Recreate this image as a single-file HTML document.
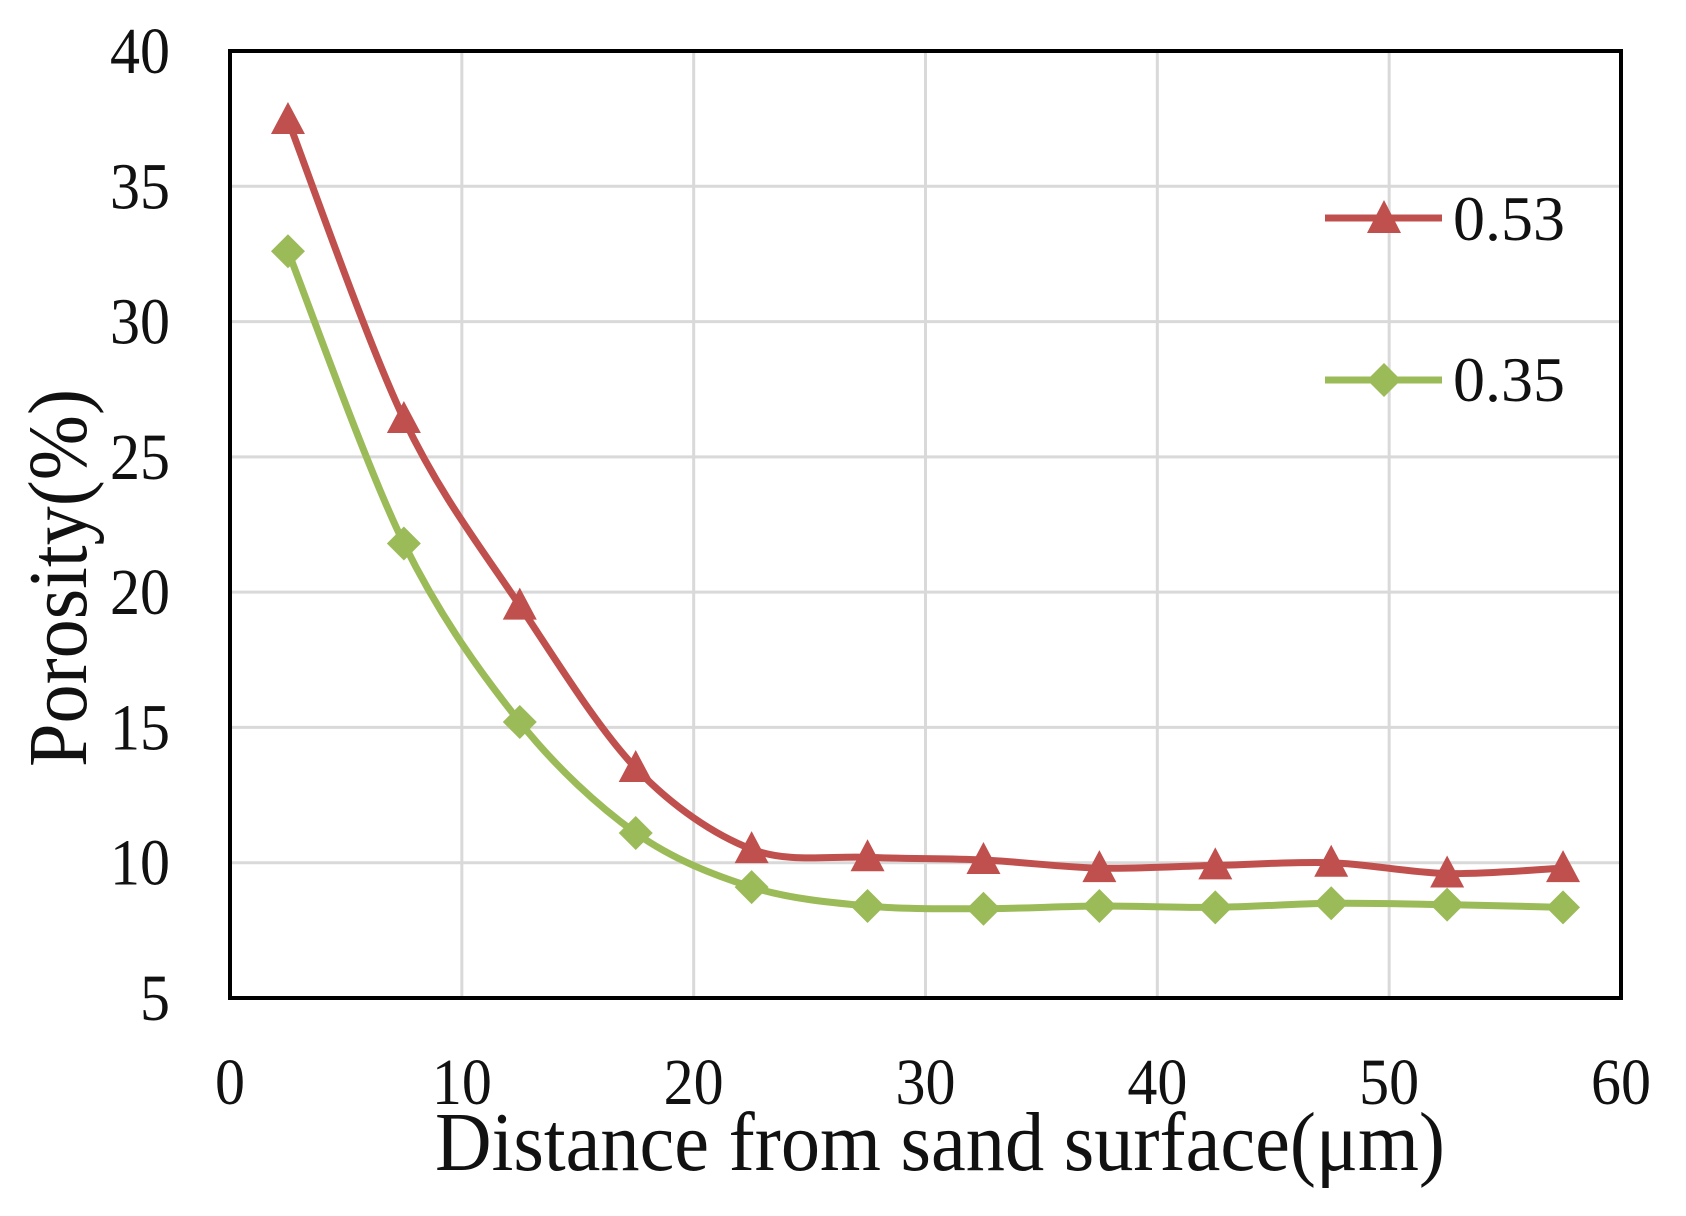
<!DOCTYPE html>
<html><head><meta charset="utf-8"><style>
html,body{margin:0;padding:0;background:#fff;}
svg{display:block;}
text{font-family:"Liberation Serif",serif;fill:#111;}
</style></head><body>
<svg width="1686" height="1216" viewBox="0 0 1686 1216" xmlns="http://www.w3.org/2000/svg">
<rect width="1686" height="1216" fill="#fff"/>
<g id="grid" stroke="#d9d9d9" stroke-width="3"></g>
<rect x="230" y="51" width="1391" height="947" fill="none" stroke="#000" stroke-width="4"/>
<g id="series"></g>
<g id="labels" font-size="66"></g>
<text x="940" y="1170" font-size="84" text-anchor="middle" textLength="1010" lengthAdjust="spacingAndGlyphs">Distance from sand surface(μm)</text>
<text transform="translate(86,578) rotate(-90)" font-size="84" text-anchor="middle" textLength="378" lengthAdjust="spacingAndGlyphs">Porosity(%)</text>
<line x1="1325" y1="218" x2="1442" y2="218" stroke="#c0504d" stroke-width="7"/>
<polygon points="1384,200 1401,233 1367,233" fill="#c0504d"/>
<text x="1453" y="240" font-size="64">0.53</text>
<line x1="1325" y1="380" x2="1442" y2="380" stroke="#9bbb59" stroke-width="7"/>
<polygon points="1384,363 1401,380 1384,397 1367,380" fill="#9bbb59"/>
<text x="1453" y="401" font-size="64">0.35</text>
</svg>
<script>
const L=230,T=51,W=1391,H=947;
const X=v=>L+v/60*W, Y=v=>T+(40-v)/35*H;
const ns="http://www.w3.org/2000/svg";
const g=document.getElementById('grid');
for(let i=1;i<6;i++){const l=document.createElementNS(ns,'line');l.setAttribute('x1',X(i*10));l.setAttribute('x2',X(i*10));l.setAttribute('y1',T);l.setAttribute('y2',T+H);g.appendChild(l);}
for(let v=10;v<40;v+=5){const l=document.createElementNS(ns,'line');l.setAttribute('x1',L);l.setAttribute('x2',L+W);l.setAttribute('y1',Y(v));l.setAttribute('y2',Y(v));g.appendChild(l);}
const lab=document.getElementById('labels');
function tl(t,v){const w=String(v).length*30;t.setAttribute('textLength',w);t.setAttribute('lengthAdjust','spacingAndGlyphs');}
for(let v=5;v<=40;v+=5){const t=document.createElementNS(ns,'text');t.setAttribute('x',170);t.setAttribute('y',Y(v)+22);t.setAttribute('text-anchor','end');t.textContent=v;tl(t,v);lab.appendChild(t);}
for(let v=0;v<=60;v+=10){const t=document.createElementNS(ns,'text');t.setAttribute('x',X(v));t.setAttribute('y',1104);t.setAttribute('text-anchor','middle');t.textContent=v;tl(t,v);lab.appendChild(t);}
const xs=[2.5,7.5,12.5,17.5,22.5,27.5,32.5,37.5,42.5,47.5,52.5,57.5];
const red=[37.45,26.4,19.5,13.5,10.5,10.2,10.1,9.8,9.9,10.0,9.6,9.8];
const grn=[32.6,21.8,15.2,11.1,9.1,8.4,8.3,8.4,8.35,8.5,8.45,8.35];
const s=document.getElementById('series');
function path(d,c){const p=xs.map((x,i)=>[X(x),Y(d[i])]);let str='M'+p[0];
for(let i=0;i<p.length-1;i++){const p0=p[i-1]||p[i],p1=p[i],p2=p[i+1],p3=p[i+2]||p2;const k=0.16;
const c1=[p1[0]+(p2[0]-p0[0])*k,p1[1]+(p2[1]-p0[1])*k],c2=[p2[0]-(p3[0]-p1[0])*k,p2[1]-(p3[1]-p1[1])*k];str+=' C'+c1+' '+c2+' '+p2;}
const e=document.createElementNS(ns,'path');e.setAttribute('d',str);e.setAttribute('fill','none');e.setAttribute('stroke',c);e.setAttribute('stroke-width',7);s.appendChild(e);return p;}
const pr=path(red,'#c0504d'),pg=path(grn,'#9bbb59');
pr.forEach(([x,y])=>{const e=document.createElementNS(ns,'polygon');e.setAttribute('points',`${x},${y-18} ${x+17},${y+14} ${x-17},${y+14}`);e.setAttribute('fill','#c0504d');s.appendChild(e);});
pg.forEach(([x,y])=>{const e=document.createElementNS(ns,'polygon');e.setAttribute('points',`${x},${y-17} ${x+17},${y} ${x},${y+17} ${x-17},${y}`);e.setAttribute('fill','#9bbb59');s.appendChild(e);});
</script>
</body></html>
